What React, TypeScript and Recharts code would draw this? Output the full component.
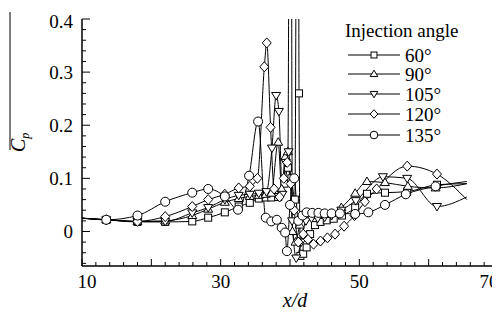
import { LineChart, Line, XAxis, YAxis, Legend } from 'recharts'

const FONT = '"Liberation Serif", "Times New Roman", serif'

// x/d positions and mean Cp, one pair of arrays per injection angle
const X_60 = [10, 13.5, 18, 22, 25.9, 28.2, 30.6, 32.6, 34.2, 35.5, 36.5, 37.3, 38.3, 39.2, 39.7, 40.2, 40.7, 41.15, 41.3, 41.5, 41.9, 42.4, 42.9, 43.6, 44.4, 45.3, 46.3, 47.5, 49.4, 51.1, 53.7, 56.9, 61.2, 65.5]
const CP_60 = [0.025, 0.022, 0.018, 0.018, 0.019, 0.026, 0.036, 0.047, 0.054, 0.062, 0.064, 0.064, 0.065, 0.09, 0.12, 0.1, 0.06, 1.5, 0.26, -0.046, -0.042, -0.03, -0.005, 0.012, 0.018, 0.021, 0.024, 0.03, 0.045, 0.071, 0.073, 0.075, 0.088, 0.09]

const X_90 = [10, 13.5, 18, 22, 25.9, 28.2, 30.6, 32.6, 34.2, 35.5, 36.5, 37.3, 38.3, 38.8, 39.3, 39.7, 40.05, 40.35, 40.8, 41.4, 42.1, 43, 44, 45, 46, 47.4, 49.4, 51.1, 53.7, 57, 61, 65.5]
const CP_90 = [0.025, 0.022, 0.019, 0.02, 0.03, 0.042, 0.055, 0.062, 0.066, 0.068, 0.07, 0.072, 0.168, 0.08, 0.14, 0.15, 1.5, 0.0, -0.02, 0.012, 0.026, 0.03, 0.03, 0.032, 0.034, 0.045, 0.072, 0.094, 0.092, 0.085, 0.082, 0.09]

const X_105 = [10, 13.5, 18, 22, 25.9, 28.2, 30.6, 32.6, 34.2, 35.5, 36.6, 37.4, 38.0, 38.4, 38.9, 39.4, 39.8, 40.3, 40.9, 41.6, 42.3, 43.1, 44, 45, 46, 47.4, 49.5, 53.4, 56.9, 61.2, 65.5]
const CP_105 = [0.025, 0.022, 0.019, 0.019, 0.035, 0.045, 0.06, 0.068, 0.07, 0.072, 0.075, 0.157, 0.256, 0.226, 0.07, 0.13, 0.15, 0.02, -0.05, -0.02, 0.02, 0.025, 0.025, 0.027, 0.03, 0.04, 0.058, 0.103, 0.1, 0.047, 0.065]

const X_120 = [10, 13.5, 18, 22, 25.9, 28.2, 30.6, 32.6, 34.2, 35.3, 36.3, 36.65, 37.2, 37.7, 38.5, 39.1, 39.6, 40.1, 40.6, 41.2, 41.9, 42.6, 43.4, 44.4, 45.4, 46.5, 47.8, 49.3, 50.8, 52.5, 56.9, 61.2, 65.5]
const CP_120 = [0.025, 0.022, 0.019, 0.028, 0.047, 0.06, 0.07, 0.082, 0.085, 0.1, 0.31, 0.355, 0.196, 0.08, 0.065, 0.1, 0.13, 0.09, 0.04, -0.02, -0.005, -0.015, -0.024, -0.018, -0.012, -0.005, 0.01, 0.03, 0.056, 0.08, 0.123, 0.108, 0.06]

const X_135 = [10, 13.5, 18, 22, 25.9, 28.2, 30.6, 32.5, 34.1, 35.4, 36.5, 37.3, 38.1, 38.8, 39.3, 39.55, 40.0, 40.6, 41.2, 41.8, 42.4, 43.2, 44.1, 45, 46, 47.2, 49.4, 51.3, 53.7, 56.7, 61, 65.5]
const CP_135 = [0.025, 0.022, 0.03, 0.056, 0.073, 0.08, 0.066, 0.041, 0.105, 0.207, 0.026, 0.019, 0.022, 0.007, -0.002, -0.037, 0.05, 0.1, 0.02, 0.03, 0.036, 0.035, 0.035, 0.034, 0.034, 0.034, 0.033, 0.036, 0.05, 0.07, 0.085, 0.094]

const SERIES = [
  { name: '60°', x: X_60, cp: CP_60, shape: 'square' },
  { name: '90°', x: X_90, cp: CP_90, shape: 'up' },
  { name: '105°', x: X_105, cp: CP_105, shape: 'down' },
  { name: '120°', x: X_120, cp: CP_120, shape: 'diamond' },
  { name: '135°', x: X_135, cp: CP_135, shape: 'circle' },
]

const X_TICKS = Array.from({ length: 31 }, (_, i) => 10 + i * 2)
const X_LABELS = [10, 30, 50, 70]
const Y_TICKS = Array.from({ length: 24 }, (_, i) => Math.round((-0.06 + i * 0.02) * 100) / 100)

const txt = { fontFamily: FONT, fill: '#000' }

function Marker({ shape, cx, cy, s = 1 }: { shape: string; cx: number; cy: number; s?: number }) {
  const st = { fill: '#fff', stroke: '#000', strokeWidth: 1 }
  if (shape === 'square') return <rect x={cx - 3.5 * s} y={cy - 3.5 * s} width={7 * s} height={7 * s} {...st} />
  if (shape === 'up') return <polygon points={`${cx},${cy - 4.5 * s} ${cx + 4.5 * s},${cy + 3 * s} ${cx - 4.5 * s},${cy + 3 * s}`} {...st} />
  if (shape === 'down') return <polygon points={`${cx},${cy + 4.5 * s} ${cx + 4.5 * s},${cy - 3 * s} ${cx - 4.5 * s},${cy - 3 * s}`} {...st} />
  if (shape === 'diamond') return <polygon points={`${cx},${cy - 5 * s} ${cx + 4.5 * s},${cy} ${cx},${cy + 5 * s} ${cx - 4.5 * s},${cy}`} {...st} />
  return <circle cx={cx} cy={cy} r={4.5 * s} {...st} />
}

const XTick = ({ x, y, payload }: any) => {
  const v = payload.value
  const major = v % 10 === 0
  const shift = v === 10 ? 5 : v === 70 ? -9 : 0
  return (
    <g>
      <line x1={x} x2={x} y1={y} y2={y - (major ? 7 : 4)} stroke="#000" />
      {X_LABELS.includes(v) && (
        <text x={x + shift} y={y + 22} textAnchor="middle" fontSize={19} style={txt}>{v}</text>
      )}
    </g>
  )
}

const YTick = ({ x, y, payload }: any) => {
  const v = Math.round(payload.value * 100) / 100
  const major = Math.abs(v * 10 - Math.round(v * 10)) < 1e-6
  return (
    <g>
      <line x1={x} x2={x + (major ? 8 : 4)} y1={y} y2={y} stroke="#000" />
      {major && v >= 0 && (
        <text x={x - 9} y={y + (v === 0.4 ? 9 : 7)} textAnchor="end" fontSize={19} style={txt}>
          {v === 0 ? '0' : v.toFixed(1)}
        </text>
      )}
    </g>
  )
}

const renderLegend = () => (
  <svg width={160} height={130} style={{ display: 'block' }}>
    <text x={5} y={19} fontSize={19} style={txt}>Injection angle</text>
    {SERIES.map((s, i) => {
      const cy = [37, 56, 76, 96, 117][i]
      return (
        <g key={s.name}>
          <line x1={8} x2={60} y1={cy} y2={cy} stroke="#000" />
          <Marker shape={s.shape} cx={34} cy={cy} s={0.85} />
          <text x={65} y={cy + 7} fontSize={19} style={txt}>{s.name}</text>
        </g>
      )
    })}
  </svg>
)

export default function App() {
  return (
    <LineChart width={492} height={312} margin={{ top: 11, right: 2, left: 0, bottom: 0 }}>
      <XAxis
        type="number"
        dataKey="x"
        domain={[10, 70]}
        allowDataOverflow
        ticks={X_TICKS}
        interval={0}
        tick={XTick}
        tickLine={false}
        tickSize={0}
        tickMargin={0}
        height={54}
        axisLine={{ stroke: '#000', strokeWidth: 1.5 }}
        label={{
          content: () => (
            <text x={287} y={299} textAnchor="middle" fontSize={20} fontStyle="italic" style={txt}>x/d</text>
          ),
        }}
      />
      <YAxis
        type="number"
        domain={[-0.065, 0.4]}
        allowDataOverflow
        ticks={Y_TICKS}
        interval={0}
        tick={YTick}
        tickLine={false}
        tickSize={0}
        tickMargin={0}
        width={74}
        axisLine={{ stroke: '#000', strokeWidth: 1.5 }}
        label={{
          content: () => (
            <g>
              <line x1={2} y1={4} x2={2} y2={142} stroke="#000" />
              <text transform="translate(17,144) rotate(-90)" fontSize={20} fontStyle="italic" style={txt}>
                C<tspan fontSize={12} dy={4}>p</tspan>
              </text>
            </g>
          ),
        }}
      />
      <Legend
        layout="vertical"
        align="center"
        verticalAlign="middle"
        content={renderLegend}
        wrapperStyle={{ left: 332, top: 10, width: 160 }}
      />
      {SERIES.map((s) => {
        const data = s.x.map((x, i) => ({ x, cp: s.cp[i] }))
        const last = data.length - 1
        return (
          <Line
            key={s.name}
            data={data}
            dataKey="cp"
            name={s.name}
            type="monotone"
            stroke="#000"
            strokeWidth={1}
            isAnimationActive={false}
            legendType="none"
            dot={(p: any) => (
              <g key={`${s.name}-${p.index}`}>
                {p.index !== 0 && p.index !== last && p.payload.cp <= 0.4 && (
                  <Marker shape={s.shape} cx={p.cx} cy={p.cy} />
                )}
              </g>
            )}
            activeDot={false}
          />
        )
      })}
    </LineChart>
  )
}
